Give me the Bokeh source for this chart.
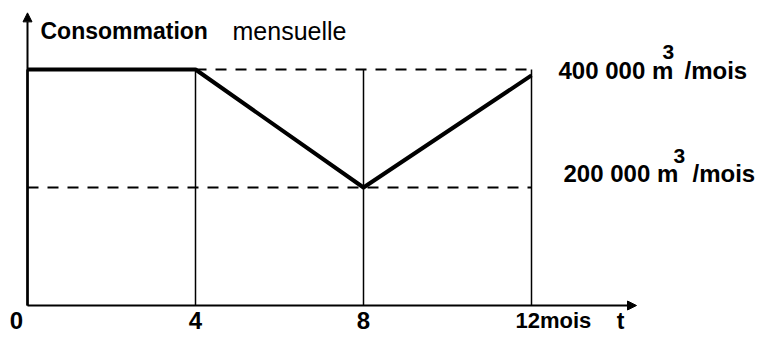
from bokeh.plotting import figure
from bokeh.models import Range1d, Arrow, NormalHead
from bokeh.core.properties import value
from bokeh.embed import file_html
from bokeh.resources import INLINE

# ---- data ----
months = [0, 4, 8, 12]
consommation = [400000, 400000, 200000, 390000]
tick_labels = ["0", "4", "8", "12mois"]
levels = [400000, 200000]
level_labels = ["400 000 m", "200 000 m"]
title_bold = "Consommation"
title_regular = "mensuelle"
x_axis_label = "t"

FONT = value("Liberation Sans")
W, H = 763, 339

# scale: x=0 -> 27px, x=12 -> 531px ; y=0 -> 305px, 400000 -> 69px
px_per_month = 504 / 12
px_per_unit = 236 / 400000
x0_px, y0_px = 27, 305

p = figure(width=W, height=H, output_backend="svg", toolbar_location=None,
           x_range=Range1d(-x0_px / px_per_month, (W - x0_px) / px_per_month),
           y_range=Range1d(-(H - y0_px) / px_per_unit, y0_px / px_per_unit),
           min_border=0, outline_line_color=None)
p.axis.visible = False
p.grid.visible = False
p.background_fill_color = "white"
p.border_fill_color = "white"

x_end = 14.5      # x-axis arrow end (months)
y_top = 496000    # y-axis arrow end

# axes with arrows
p.add_layout(Arrow(end=NormalHead(size=9, fill_color="black", line_color="black"),
                   x_start=0, y_start=0, x_end=0, y_end=y_top,
                   line_width=2, line_color="black"))
p.add_layout(Arrow(end=NormalHead(size=9, fill_color="black", line_color="black"),
                   x_start=0, y_start=0, x_end=x_end, y_end=0,
                   line_width=2, line_color="black"))

# vertical guide lines
p.segment(x0=months, y0=[0] * 4, x1=months, y1=[levels[0]] * 4,
          line_color="black", line_width=[2.5, 1.5, 1.5, 1.5])

# dashed reference levels
p.segment(x0=[months[1], months[0]], y0=levels, x1=[months[3], months[3]], y1=levels,
          line_color="black", line_width=2, line_dash="11 9")

# consumption curve
p.line(months, consommation, line_color="black", line_width=4, line_join="round")

# tick labels
p.text(x=months[:3], y=[0] * 3, text=tick_labels[:3], text_font=FONT, text_font_style="bold",
       text_font_size="24px", text_align="center", text_baseline="alphabetic",
       x_offset=[-11, 0, 0], y_offset=15, text_color="black")
p.text(x=[months[3]], y=[0], text=[tick_labels[3]], text_font=FONT, text_font_style="bold",
       text_font_size="22px", text_align="left", text_baseline="alphabetic",
       x_offset=-16, y_offset=15, text_color="black")
p.text(x=[x_end], y=[0], text=[x_axis_label], text_font=FONT, text_font_style="bold",
       text_font_size="23px", text_align="center", text_baseline="alphabetic",
       x_offset=-16, y_offset=15, text_color="black")

# title
p.text(x=[0], y=[y_top], text=[title_bold], text_font=FONT, text_font_style="bold",
       text_font_size="23px", text_align="left", text_baseline="alphabetic",
       x_offset=13, y_offset=18, text_color="black")
p.text(x=[0], y=[y_top], text=[title_regular], text_font=FONT, text_font_style="normal",
       text_font_size="25px", text_align="left", text_baseline="alphabetic",
       x_offset=205, y_offset=18, text_color="black")

# level labels: "400 000 m" + superscript 3 + "/mois"
lx = [months[3], months[3]]
p.text(x=lx, y=levels, text=level_labels, text_font=FONT, text_font_style="bold",
       text_font_size="24px", text_align="left", text_baseline="alphabetic",
       x_offset=[27, 32], y_offset=[1, -14], text_color="black")
p.text(x=lx, y=levels, text=["3", "3"], text_font=FONT, text_font_style="bold",
       text_font_size="21px", text_align="left", text_baseline="alphabetic",
       x_offset=[131, 142], y_offset=[-18, -32], text_color="black")
p.text(x=lx, y=levels, text=["/mois", "/mois"], text_font=FONT, text_font_style="bold",
       text_font_size="24px", text_align="left", text_baseline="alphabetic",
       x_offset=[153, 161], y_offset=[1, -14], text_color="black")

open("out.html", "w").write(file_html(p, INLINE))
